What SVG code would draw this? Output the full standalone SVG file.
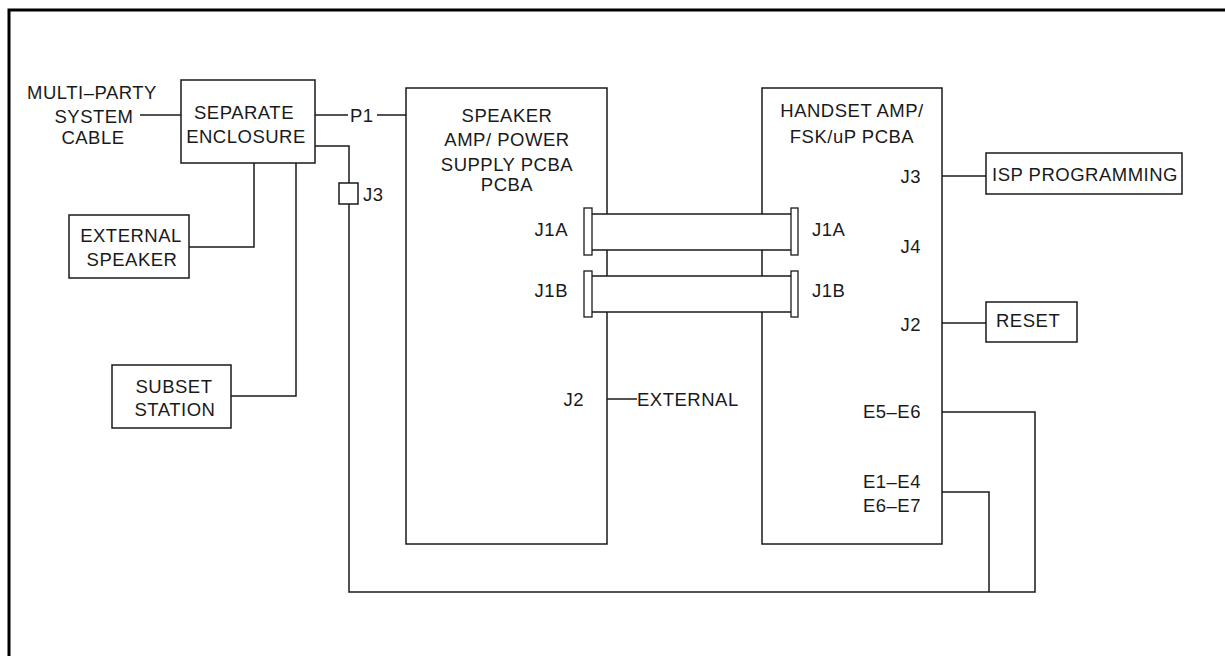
<svg xmlns="http://www.w3.org/2000/svg" width="1225" height="656" viewBox="0 0 1225 656">
<style>
.box{fill:#fff;stroke:#1a1a1a;stroke-width:1.5}
.w{fill:none;stroke:#1a1a1a;stroke-width:1.5}
.bar{fill:#fff;stroke:#1a1a1a;stroke-width:1.3}
text{font-family:"Liberation Sans",Arial,sans-serif;font-size:18.5px;fill:#1a1a1a;letter-spacing:0.5px}
.m{text-anchor:middle}
.e{text-anchor:end}
</style>
<rect x="0" y="0" width="1225" height="656" fill="#fff"/>
<g id="frame">
<path d="M9 656 V10 H1225" fill="none" stroke="#000" stroke-width="3"/>
</g>
<g id="connectors">
<path class="w" d="M140 115 H181"/>
<path class="w" d="M315 115 H348"/>
<path class="w" d="M377 115 H406"/>
<path class="w" d="M315 146 H349 V183"/>
<path class="w" d="M349 204 V592 H1035 V412 H942"/>
<path class="w" d="M989 592 V492 H942"/>
<path class="w" d="M254 163 V247 H189"/>
<path class="w" d="M296 163 V396 H231"/>
<path class="w" d="M607 399 H637"/>
<path class="w" d="M942 176 H986"/>
<path class="w" d="M942 323 H986"/>
</g>
<g id="multi-party-label">
<text class="m" x="92" y="99">MULTI–PARTY</text>
<text class="m" x="94" y="123">SYSTEM</text>
<text class="m" x="93" y="144">CABLE</text>
</g>
<g id="separate-enclosure">
<rect class="box" x="181" y="80" width="134" height="83"/>
<text class="m" x="244" y="119">SEPARATE</text>
<text class="m" x="246" y="143">ENCLOSURE</text>
</g>
<g id="p1-label"><text x="350" y="122">P1</text></g>
<g id="j3-connector">
<rect class="box" x="339" y="183" width="19" height="21"/>
<text x="363" y="201">J3</text>
</g>
<g id="external-speaker">
<rect class="box" x="69" y="215" width="120" height="63"/>
<text class="m" x="131" y="242">EXTERNAL</text>
<text class="m" x="132" y="266">SPEAKER</text>
</g>
<g id="subset-station">
<rect class="box" x="112" y="365" width="119" height="63"/>
<text class="m" x="174" y="393">SUBSET</text>
<text class="m" x="175" y="416">STATION</text>
</g>
<g id="speaker-amp">
<rect class="box" x="406" y="88" width="201" height="456"/>
<text class="m" x="507" y="122">SPEAKER</text>
<text class="m" x="507" y="146">AMP/ POWER</text>
<text class="m" x="507" y="171">SUPPLY PCBA</text>
<text class="m" x="507" y="191">PCBA</text>
<text class="e" x="568" y="236">J1A</text>
<text class="e" x="568" y="297">J1B</text>
<text class="e" x="584" y="406">J2</text>
</g>
<g id="external-label"><text x="637" y="406">EXTERNAL</text></g>
<g id="handset-amp">
<rect class="box" x="762" y="88" width="180" height="456"/>
<text class="m" x="852" y="117">HANDSET AMP/</text>
<text class="m" x="852" y="143">FSK/uP PCBA</text>
<text class="e" x="921" y="183">J3</text>
<text x="812" y="236">J1A</text>
<text class="e" x="921" y="253">J4</text>
<text x="812" y="297">J1B</text>
<text class="e" x="921" y="331">J2</text>
<text class="e" x="921" y="418">E5–E6</text>
<text class="e" x="921" y="488">E1–E4</text>
<text class="e" x="921" y="512">E6–E7</text>
</g>
<g id="ribbon-j1a">
<rect fill="#fff" stroke="none" x="592" y="214" width="199" height="36"/>
<path class="w" d="M592 214 H791 M592 250 H791"/>
<rect class="bar" x="584" y="208" width="8" height="47"/>
<rect class="bar" x="791" y="208" width="7" height="47"/>
</g>
<g id="ribbon-j1b">
<rect fill="#fff" stroke="none" x="592" y="276" width="199" height="36"/>
<path class="w" d="M592 276 H791 M592 312 H791"/>
<rect class="bar" x="584" y="271" width="8" height="46"/>
<rect class="bar" x="791" y="271" width="7" height="46"/>
</g>
<g id="isp-programming">
<rect class="box" x="986" y="153" width="196" height="41"/>
<text x="992" y="181" textLength="186">ISP  PROGRAMMING</text>
</g>
<g id="reset">
<rect class="box" x="986" y="302" width="91" height="40"/>
<text x="996" y="327">RESET</text>
</g>
</svg>
